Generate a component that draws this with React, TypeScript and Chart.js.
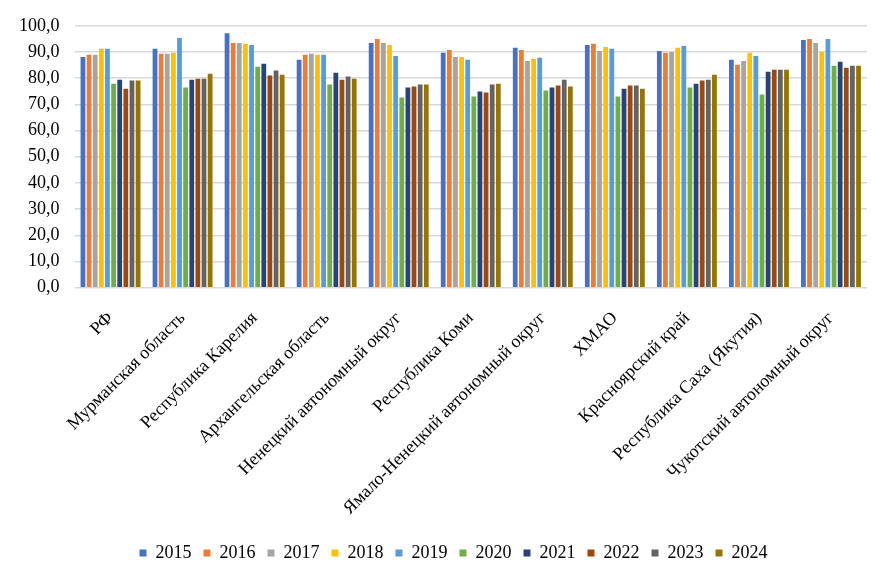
import React, { useEffect, useRef } from "react";
import { Chart, registerables } from "chart.js";

Chart.register(...registerables);

const regions = [
  "РФ",
  "Мурманская область",
  "Республика Карелия",
  "Архангельская область",
  "Ненецкий автономный округ",
  "Республика Коми",
  "Ямало-Ненецкий автономный округ",
  "ХМАО",
  "Красноярский край",
  "Республика Саха (Якутия)",
  "Чукотский автономный округ",
];

const years = ["2015", "2016", "2017", "2018", "2019", "2020", "2021", "2022", "2023", "2024"];

const colors = [
  "#4472C4", "#ED7D31", "#A5A5A5", "#FFC000", "#5B9BD5",
  "#70AD47", "#264478", "#9E480E", "#636363", "#997300",
];

// Values per region, 2015..2024
const rf = [88.1, 88.9, 88.9, 91.2, 91.2, 77.9, 79.4, 76.0, 79.1, 79.1];
const murmansk = [91.2, 89.3, 89.3, 89.7, 95.3, 76.4, 79.4, 79.8, 79.8, 81.7];
const karelia = [97.2, 93.4, 93.4, 93.1, 92.7, 84.4, 85.5, 81.0, 82.9, 81.3];
const arkhangelsk = [87.0, 88.9, 89.3, 88.9, 88.9, 77.6, 82.1, 79.4, 80.6, 79.8];
const nenets = [93.4, 95.0, 93.4, 92.7, 88.5, 72.6, 76.4, 76.8, 77.6, 77.6];
const komi = [89.7, 90.8, 88.1, 88.1, 87.0, 73.0, 74.9, 74.5, 77.6, 77.9];
const yamal = [91.6, 90.8, 86.6, 87.4, 87.8, 75.3, 76.4, 77.2, 79.4, 76.8];
const khmao = [92.7, 93.1, 90.4, 91.9, 91.2, 73.0, 76.0, 77.2, 77.2, 76.0];
const krasnoyarsk = [90.4, 89.7, 90.0, 91.6, 92.3, 76.4, 77.9, 79.1, 79.4, 81.3];
const sakha = [87.0, 85.1, 86.6, 89.7, 88.5, 73.8, 82.5, 83.2, 83.2, 83.2];
const chukotka = [94.6, 95.0, 93.4, 90.0, 95.0, 84.7, 86.3, 84.0, 84.7, 84.7];

const table = [rf, murmansk, karelia, arkhangelsk, nenets, komi, yamal, khmao, krasnoyarsk, sakha, chukotka];

const yTicks = { min: 0, max: 100, step: 10 };

const FONT = "'Liberation Serif', 'Times New Roman', serif";

// Nudges the bottom legend so it sits centred under the plot area
const legendShift = {
  id: "legendShift",
  afterLayout(chart: any) {
    const lg = chart.legend;
    if (lg) {
      lg.left += 18;
      lg.right += 18;
    }
  },
};

export default function App() {
  const ref = useRef<HTMLCanvasElement | null>(null);

  useEffect(() => {
    if (!ref.current) return;
    const chart = new Chart(ref.current, {
      type: "bar",
      data: {
        labels: regions,
        datasets: years.map((y, i) => ({
          label: y,
          data: table.map((row) => row[i]),
          backgroundColor: colors[i],
          borderWidth: 0,
          categoryPercentage: 0.85,
          barPercentage: 0.78,
        })),
      },
      plugins: [legendShift],
      options: {
        animation: false,
        responsive: false,
        maintainAspectRatio: false,
        layout: { padding: { left: 4, right: 28, top: 11, bottom: 8 } },
        plugins: {
          legend: {
            position: "bottom",
            labels: {
              boxWidth: 7,
              boxHeight: 7,
              padding: 12,
              color: "#000",
              font: { family: FONT, size: 18 },
            },
          },
          tooltip: { enabled: false },
        },
        scales: {
          x: {
            grid: { display: false },
            border: { display: false },
            afterFit(scale: any) {
              // leave a clear band between the rotated labels and the legend
              scale.height += 1;
            },
            ticks: {
              color: "#000",
              font: { family: FONT, size: 18 },
              minRotation: 45,
              maxRotation: 45,
              autoSkip: false,
              padding: 12,
            },
          },
          y: {
            min: yTicks.min,
            max: yTicks.max,
            border: { display: false },
            grid: { color: "#d9d9d9", lineWidth: 1.5, drawTicks: false },
            ticks: {
              stepSize: yTicks.step,
              autoSkip: false,
              color: "#000",
              padding: 15,
              font: { family: FONT, size: 18 },
              callback: (v) => Number(v).toFixed(1).replace(".", ","),
            },
          },
        },
      },
    });
    return () => chart.destroy();
  }, []);

  return (
    <div style={{ position: "fixed", left: 0, top: 0, width: 895, height: 580, background: "#fff" }}>
      <canvas ref={ref} width={895} height={580} style={{ width: 895, height: 580 }} />
    </div>
  );
}
